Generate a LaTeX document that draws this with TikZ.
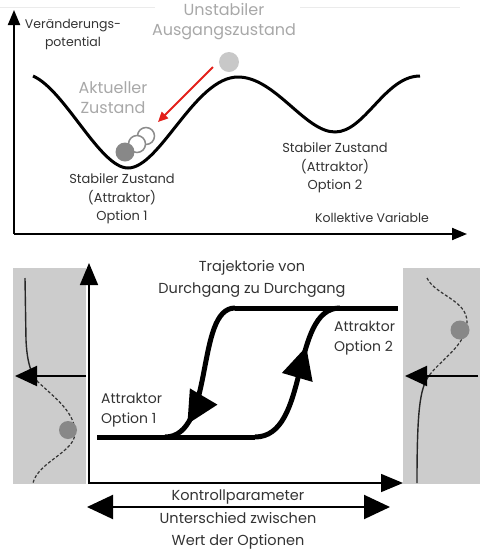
\documentclass[tikz,border=0pt]{standalone}
\usepackage{fontspec}
\setmainfont{Poppins}
\usetikzlibrary{arrows.meta,decorations.markings}
\definecolor{boxgray}{HTML}{CCCCCC}
\definecolor{ballgray}{HTML}{888888}
\definecolor{lightball}{HTML}{C8C8C8}
\definecolor{txt}{HTML}{333333}
\definecolor{gtxt}{HTML}{A8A8A8}
\definecolor{arrred}{HTML}{E3201B}
\begin{document}
\begin{tikzpicture}[x=1pt,y=-1pt,
  lbl/.style={font=\fontsize{13}{18.5}\selectfont, text=txt, align=center, inner sep=0pt},
  smalllbl/.style={font=\fontsize{12.5}{18}\selectfont, text=txt, align=center, inner sep=0pt},
  greylbl/.style={font=\fontsize{16}{20}\selectfont, text=gtxt, align=center, inner sep=0pt},
  biglbl/.style={font=\fontsize{14.5}{22}\selectfont, text=txt, align=center, inner sep=0pt},
  attlbl/.style={font=\fontsize{14}{20}\selectfont, text=txt, align=left, inner sep=0pt, anchor=west},
  topaxis/.style={line width=2pt, -{Triangle[length=15pt,width=12pt]}},
  botaxis/.style={line width=1.6pt, -{Triangle[length=22pt,width=18pt]}},
  boxarrow/.style={line width=2pt, -{Triangle[length=22pt,width=20pt]}},
  trajline/.style={line width=5pt, line cap=butt, line join=round},
  midarrow/.style={postaction={decorate, decoration={markings,
      mark=at position #1 with {\fill (3pt,0pt) -- (-29pt,16pt) -- (-29pt,-16pt) -- cycle;}}}},
  landscape/.style={line width=1.2pt, densely dashed, black!80},
  solidcurve/.style={line width=1.4pt, black!85}
]
\useasboundingbox (0,0) rectangle (480,550);

% faint top line
\coordinate (fl1) at (0,7); \coordinate (fl2) at (155,7);
\coordinate (fl3) at (300,7); \coordinate (fl4) at (460,7);
\draw[black!8, line width=1pt] (fl1) -- (fl2) (fl3) -- (fl4);

% ===== top diagram =====
\coordinate (o1) at (14,234);
\coordinate (ytop) at (14,10);
\coordinate (xend) at (467,234);
\draw[topaxis] (o1) -- (ytop);
\draw[topaxis] (o1) -- (xend);

% potential curve
\coordinate (c0) at (33,76);
\coordinate (c1) at (128,168);
\coordinate (c2) at (238,77);
\coordinate (c3) at (335,132);
\coordinate (c4) at (420,76);
\draw[line width=3pt] (c0) .. controls (65,90) and (100,168) .. (c1)
  .. controls (160,168) and (195,77) .. (c2)
  .. controls (275,77) and (305,132) .. (c3)
  .. controls (365,132) and (385,76) .. (c4);

% balls
\fill[lightball] (229,62) circle (10);
\draw[black!45, fill=white, line width=1.5pt] (146,136) circle (8.5);
\draw[black!45, fill=white, line width=1.5pt] (137,144) circle (8.5);
\fill[ballgray] (125,152) circle (9.5);

% red arrow
\coordinate (ra1) at (213,67);
\coordinate (ra2) at (158,122);
\draw[arrred, line width=2pt, -{Triangle[length=10pt,width=9pt]}] (ra1) -- (ra2);

% labels top
\node[smalllbl] (vp) at (73,34) {Veränderungs-\\potential};
\node[greylbl] (unst) at (224,22) {Unstabiler\\Ausgangszustand};
\node[greylbl] (akt) at (113,98) {Aktueller\\Zustand};
\node[lbl] (opt1) at (122,199) {Stabiler Zustand\\(Attraktor)\\Option 1};
\node[lbl] (opt2) at (335,168) {Stabiler Zustand\\(Attraktor)\\Option 2};
\node[smalllbl] (kv) at (372,218) {Kollektive Variable};

% ===== bottom diagram =====
\fill[boxgray] (13,268) rectangle (86,484);
\fill[boxgray] (403,268) rectangle (480,484);

% left box
\coordinate (l0) at (25,278);
\coordinate (l1) at (26,340);
\coordinate (l2) at (37,381);
\coordinate (l3) at (75,433);
\coordinate (l4) at (33,483);
\draw[solidcurve] (l0) -- (l1) .. controls (27,360) and (30,372) .. (l2);
\draw[landscape] (l2) .. controls (55,398) and (75,412) .. (l3)
  .. controls (75,452) and (38,462) .. (l4);
\fill[ballgray] (68,430) circle (9);
\coordinate (la1) at (86,376);
\coordinate (la2) at (15,376);
\draw[boxarrow] (la1) -- (la2);

% right box
\coordinate (r0) at (427,278);
\coordinate (r1) at (467,322);
\coordinate (r2) at (428,377);
\coordinate (r3) at (417,483);
\draw[landscape] (r0) .. controls (435,295) and (467,300) .. (r1)
  .. controls (467,345) and (440,360) .. (r2);
\draw[solidcurve] (r2) .. controls (420,390) and (417,410) .. (r3);
\fill[ballgray] (460,330) circle (9.5);
\coordinate (rb1) at (478,376);
\coordinate (rb2) at (405,376);
\draw[boxarrow] (rb1) -- (rb2);

% axes
\coordinate (o2) at (89,484);
\coordinate (y2) at (89,263);
\coordinate (x2s) at (88,483);
\coordinate (x2) at (403,483);
\draw[botaxis] (o2) -- (y2);
\draw[botaxis] (x2s) -- (x2);

% trajectories
\coordinate (t0) at (97,437);
\coordinate (t1) at (255,437);
\coordinate (t2) at (340,308);
\coordinate (t3) at (398,308);
\coordinate (t4) at (235,308);
\coordinate (t5) at (165,437);
\draw[trajline] (t0) -- (t1);
\draw[trajline] (t4) -- (t3);
\draw[trajline, midarrow=0.65] (t1) .. controls (310,437) and (290,308) .. (t2);
\draw[trajline, midarrow=0.81] (t4) .. controls (195,308) and (215,437) .. (t5);

\node[biglbl] (traj) at (252,279) {Trajektorie von\\Durchgang zu Durchgang};
\node[attlbl] (att1) at (101,410) {Attraktor\\Option 1};
\node[attlbl] (att2) at (334,338) {Attraktor\\Option 2};

% double arrow
\coordinate (d1) at (87,507);
\coordinate (d2) at (390,507);
\draw[line width=2pt, {Triangle[length=26pt,width=24pt]}-{Triangle[length=26pt,width=24pt]}] (d1) -- (d2);
\node[biglbl] (kp) at (238,497) {Kontrollparameter};
\node[biglbl] (uz) at (238,531) {Unterschied zwischen\\Wert der Optionen};
\end{tikzpicture}
\end{document}
